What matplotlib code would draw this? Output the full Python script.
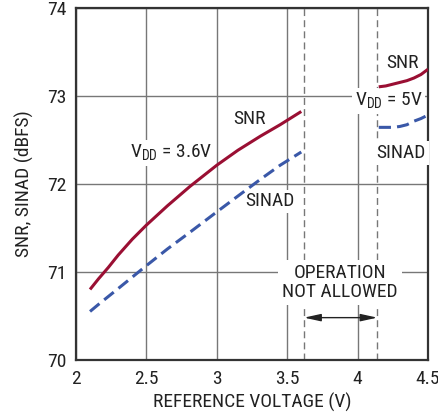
import matplotlib
matplotlib.use('Agg')
import matplotlib.pyplot as plt
from matplotlib import font_manager

names = set(f.name for f in font_manager.fontManager.ttflist)
fams = [f for f in ['Liberation Sans Narrow', 'DejaVu Sans Condensed', 'Roboto Condensed'] if f in names]
plt.rcParams['font.family'] = fams + ['Liberation Sans', 'DejaVu Sans']

# VDD = 3.6V curves
vref_36 = [2.1, 2.16, 2.23, 2.3, 2.4, 2.5, 2.65, 2.81, 3.0, 3.15, 3.31, 3.45, 3.6]
snr_36 = [70.80, 70.92, 71.05, 71.19, 71.37, 71.53, 71.75, 71.97, 72.21, 72.38, 72.54, 72.67, 72.82]
sinad_36 = [70.55, 70.63, 70.72, 70.81, 70.94, 71.07, 71.26, 71.45, 71.68, 71.86, 72.05, 72.21, 72.36]

# VDD = 5V curves
vref_5 = [4.15, 4.2, 4.25, 4.3, 4.35, 4.4, 4.45, 4.5]
snr_5 = [73.10, 73.11, 73.13, 73.15, 73.17, 73.20, 73.24, 73.30]
sinad_5 = [72.64, 72.64, 72.64, 72.65, 72.67, 72.71, 72.74, 72.78]

# limits of the region where operation is not allowed
limit_lo = 3.62
limit_hi = 4.14

x_ticks = [2, 2.5, 3, 3.5, 4, 4.5]
x_tick_labels = ['2', '2.5', '3', '3.5', '4', '4.5']
y_ticks = [70, 71, 72, 73, 74]

red = '#9a0f33'
blue = '#3a58a8'
txt = '#222222'
fs = 14
box = dict(facecolor='white', edgecolor='none', pad=2)

fig = plt.figure(figsize=(4.39, 4.19), dpi=100)
ax = fig.add_axes([0.173, 0.141, 0.802, 0.841])

ax.plot(vref_36, snr_36, color=red, lw=2.2, solid_capstyle='butt', zorder=5)
ax.plot(vref_36, sinad_36, color=blue, lw=2.2, dashes=(4, 2), zorder=5)
ax.plot(vref_5, snr_5, color=red, lw=2.2, solid_capstyle='butt', zorder=5)
ax.plot(vref_5, sinad_5, color=blue, lw=2.2, dashes=(4, 2), zorder=5)

ax.axvline(limit_lo, color='#777777', lw=1, dashes=(5, 3), zorder=2)
ax.axvline(limit_hi, color='#777777', lw=1, dashes=(5, 3), zorder=2)

ax.set_xlim(2, 4.5)
ax.set_ylim(70, 74)
ax.set_xticks(x_ticks)
ax.set_xticklabels(x_tick_labels)
ax.set_yticks(y_ticks)
ax.tick_params(length=0, labelsize=fs, pad=7, colors=txt)
ax.grid(color='#777777', lw=1, zorder=1)
ax.set_axisbelow(True)
for sp in ax.spines.values():
    sp.set_color('#333333')
    sp.set_linewidth(1.6)

ax.set_xlabel('REFERENCE VOLTAGE (V)', fontsize=fs, color=txt, labelpad=4)
ax.set_ylabel('SNR, SINAD (dBFS)', fontsize=fs, color=txt, labelpad=9)

kw = dict(fontsize=fs, color=txt, ha='center', va='center', bbox=box, zorder=4)
ax.text(3.23, 72.74, 'SNR', **kw)
ax.text(3.38, 71.80, 'SINAD', **kw)
ax.text(2.68, 72.35, r'V$_{\mathregular{DD}}$ = 3.6V', **kw)
ax.text(4.32, 73.37, 'SNR', **kw)
ax.text(4.22, 72.94, r'V$_{\mathregular{DD}}$ = 5V', **kw)
ax.text(4.31, 72.35, 'SINAD', **kw)
ax.text(3.875, 70.88, 'OPERATION\nNOT ALLOWED', fontsize=fs, color=txt,
        ha='center', va='center', linespacing=1.1,
        bbox=dict(facecolor='white', edgecolor='none', pad=3), zorder=4)

ax.annotate('', xy=(limit_lo, 70.48), xytext=(limit_hi, 70.48),
            arrowprops=dict(arrowstyle='<|-|>,head_length=1.0,head_width=0.22',
                            color=txt, lw=1, shrinkA=0, shrinkB=0), zorder=4)

plt.savefig('out.png', dpi=100)
